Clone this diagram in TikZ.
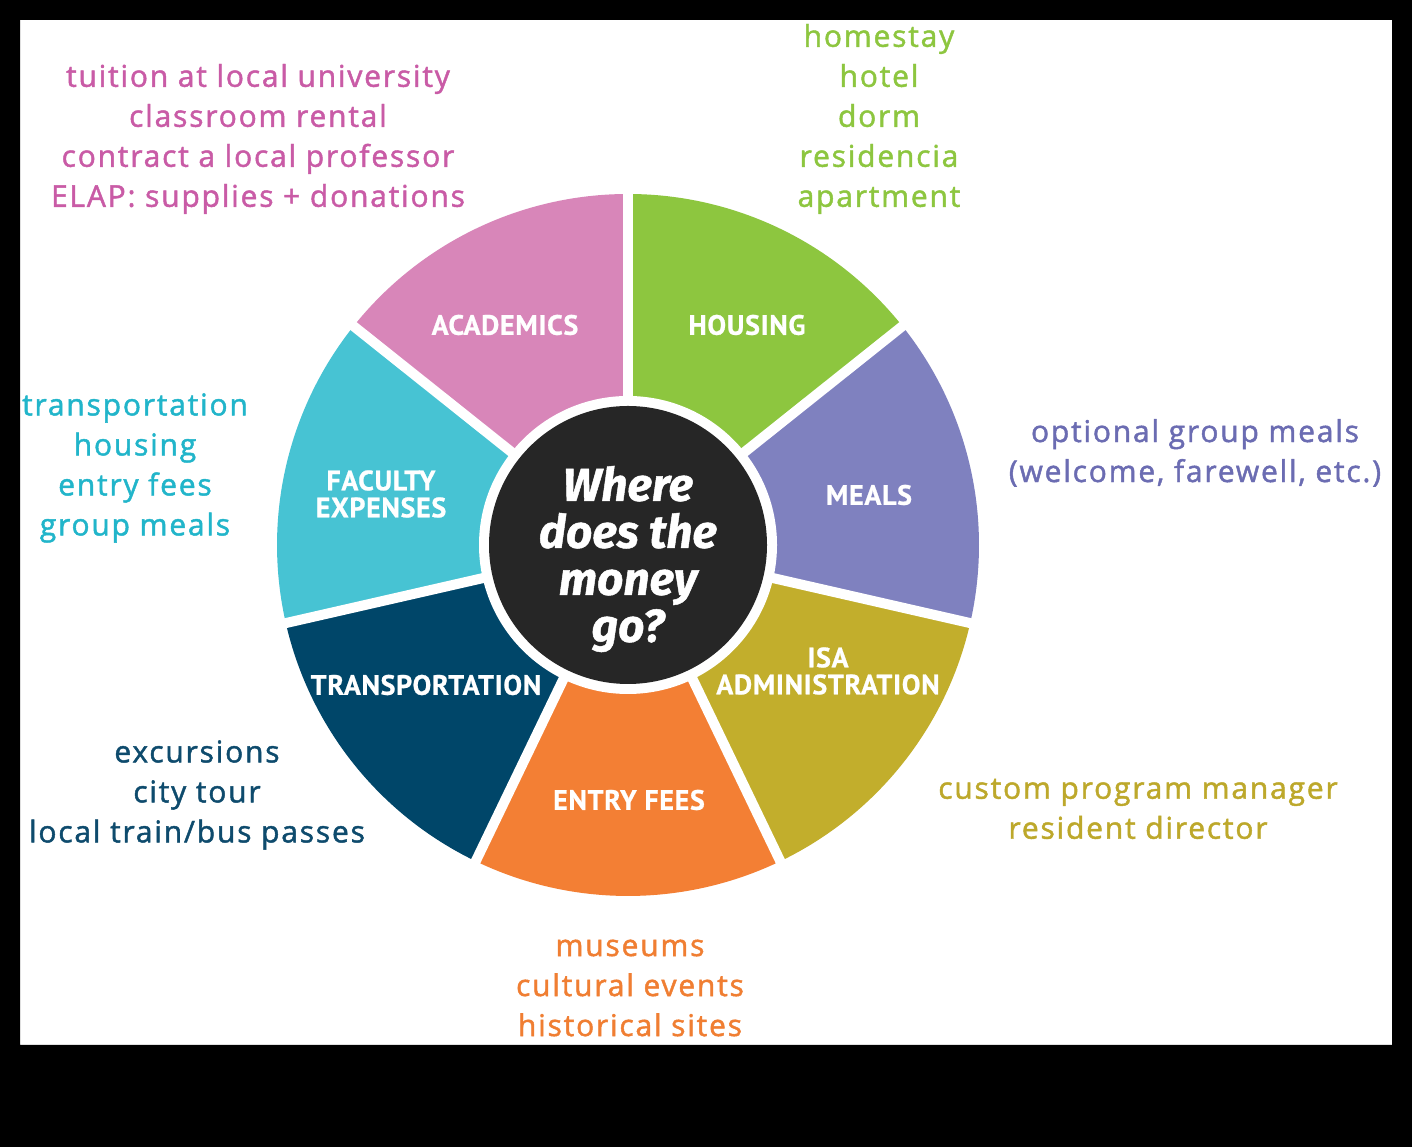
\documentclass[tikz,border=0pt]{standalone}
\usepackage{fontspec}
\newfontfamily\bodyfont[LetterSpace=6, BoldFont={Open Sans}, BoldFeatures={FakeBold=1.5, LetterSpace=6}]{Open Sans}
\newfontfamily\segfont[LetterSpace=2.5, BoldFeatures={FakeBold=0.8, LetterSpace=2.5}]{PT Sans}
\newfontfamily\centerfont[BoldItalicFeatures={FakeBold=1}]{Fira Sans}
\definecolor{pinkseg}{HTML}{D886B9}
\definecolor{greenseg}{HTML}{8DC63F}
\definecolor{purpleseg}{HTML}{7F81BF}
\definecolor{oliveseg}{HTML}{C2AE2C}
\definecolor{orangeseg}{HTML}{F37F34}
\definecolor{navyseg}{HTML}{004669}
\definecolor{cyanseg}{HTML}{47C3D3}
\definecolor{darkc}{HTML}{262626}
\definecolor{pinktxt}{HTML}{C95BA6}
\definecolor{greentxt}{HTML}{8DC63F}
\definecolor{cyantxt}{HTML}{21B5CA}
\definecolor{purpletxt}{HTML}{6B6CB2}
\definecolor{navytxt}{HTML}{0E4B6D}
\definecolor{olivetxt}{HTML}{BDA82B}
\definecolor{orangetxt}{HTML}{F07E32}
\tikzset{
  listtext/.style={align=center, inner sep=0pt, font=\bodyfont\bfseries\fontsize{30}{40}\selectfont},
  seglabel/.style={align=center, inner sep=0pt, text=white, font=\segfont\bfseries\fontsize{28}{27}\selectfont},
  centertext/.style={align=center, inner sep=0pt, text=white, font=\centerfont\bfseries\itshape\fontsize{46}{47}\selectfont},
}
\begin{document}
\begin{tikzpicture}[x=1pt,y=1pt]
\useasboundingbox (0,0) rectangle (1412,1147);
\fill[white] (0,0) rectangle (1412,1147);
\coordinate (c) at (628,602);
% sectors
\foreach \a/\col in {38.571/greenseg, 90/pinkseg, 141.429/cyanseg, 192.857/navyseg, 244.286/orangeseg, 295.714/oliveseg, 347.143/purpleseg}{
  \fill[\col] (c) -- ++(\a:351) arc[start angle=\a, end angle=\a+51.429, radius=351] -- cycle;
}
% gaps
\foreach \a in {38.571, 90, 141.429, 192.857, 244.286, 295.714, 347.143}{
  \draw[white, line width=10pt] (c) -- ++(\a:360);
}
\fill[white] (c) circle[radius=149];
\fill[darkc] (c) circle[radius=139];
\node[centertext] (ctr) at (628,588) {Where\\does the\\money\\go?};
% segment labels
\node[seglabel] (acad) at (505,822) {ACADEMICS};
\node[seglabel] (hous) at (747,822) {HOUSING};
\node[seglabel] (meal) at (869,652) {MEALS};
\node[seglabel] (isa) at (828,476) {ISA\\ADMINISTRATION};
\node[seglabel] (entry) at (629,347) {ENTRY FEES};
\node[seglabel] (trans) at (426,462) {TRANSPORTATION};
\node[seglabel] (fac) at (381,653) {FACULTY\\EXPENSES};
% lists
\node[listtext, text=pinktxt] (acadlist) at (258,1008) {tuition at local university\\classroom rental\\contract a local professor\\ELAP: supplies + donations};
\node[listtext, text=greentxt] (houslist) at (879,1028) {homestay\\hotel\\dorm\\residencia\\apartment};
\node[listtext, text=cyantxt] (faclist) at (135,679) {transportation\\housing\\entry fees\\group meals};
\node[listtext, text=purpletxt] (meallist) at (1195,694) {optional group meals\\(welcome, farewell, etc.)};
\node[listtext, text=navytxt] (translist) at (197,352) {excursions\\city tour\\local train/bus passes};
\node[listtext, text=olivetxt] (isalist) at (1138,338) {custom program manager\\resident director};
\node[listtext, text=orangetxt] (entrylist) at (630,159) {museums\\cultural events\\historical sites};
% frame
\fill[black, even odd rule] (0,0) rectangle (1412,1147) (20,102) rectangle (1392,1127);
\end{tikzpicture}
\end{document}
